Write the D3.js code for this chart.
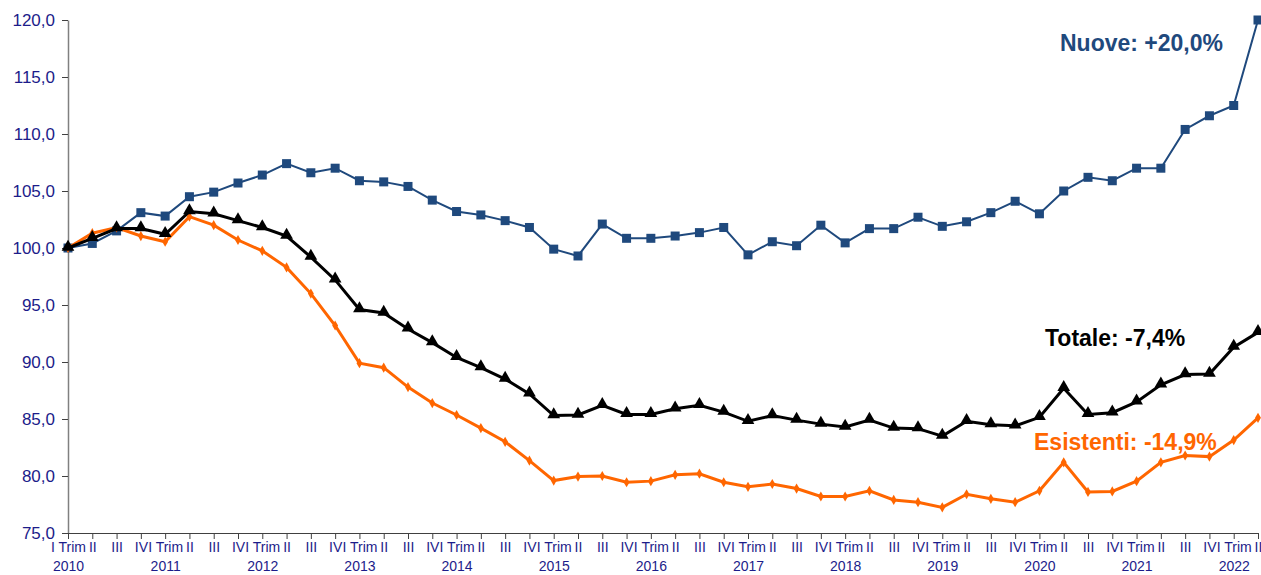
<!doctype html>
<html>
<head>
<meta charset="utf8">
<style>
  body { margin: 0; background: #fff; }
  svg { font-family: Arial, "Liberation Sans", sans-serif; }
  .tick text { fill: #1c1c8a; }
</style>
<script src="https://d3js.org/d3.v7.min.js"></script>
</head>
<body>
<svg width="1261" height="575"></svg>
<script>
// trimestri da I 2010 a II 2022
var quarters = [];
var years = [];
for (var yr = 2010; yr <= 2022; yr++) {
    ["I Trim", "II", "III", "IV"].forEach(function(q) {
        if (yr === 2022 && (q === "III" || q === "IV")) return;
        quarters.push(q);
        years.push(q === "I Trim" ? String(yr) : "");
    });
}

var nuove = [100.0, 100.4, 101.5, 103.1, 102.8, 104.5, 104.9, 105.7, 106.4, 107.4,
             106.6, 107.0, 105.9, 105.8, 105.4, 104.2, 103.2, 102.9, 102.4, 101.8,
             99.9, 99.3, 102.1, 100.85, 100.85, 101.05, 101.35, 101.8, 99.4, 100.55,
             100.2, 102.0, 100.45, 101.7, 101.7, 102.7, 101.9, 102.3, 103.1, 104.1,
             103.0, 105.0, 106.2, 105.9, 107.0, 107.0, 110.4, 111.6, 112.5, 120.0];

var totale = [100.0, 100.85, 101.7, 101.7, 101.2, 103.2, 103.0, 102.4, 101.8, 101.05,
              99.2, 97.2, 94.6, 94.3, 92.9, 91.7, 90.4, 89.5, 88.5, 87.2,
              85.3, 85.35, 86.2, 85.4, 85.4, 85.9, 86.2, 85.6, 84.8, 85.3,
              84.9, 84.55, 84.3, 84.9, 84.2, 84.15, 83.5, 84.8, 84.5, 84.4,
              85.15, 87.7, 85.4, 85.55, 86.5, 88.0, 88.9, 88.95, 91.3, 92.6];

var esistenti = [100.0, 101.3, 101.8, 101.05, 100.55, 102.75, 102.0, 100.7, 99.75, 98.3,
                 96.0, 93.2, 89.9, 89.5, 87.8, 86.4, 85.35, 84.2, 83.0, 81.35,
                 79.6, 79.95, 80.0, 79.45, 79.55, 80.1, 80.2, 79.45, 79.05, 79.3,
                 78.9, 78.2, 78.2, 78.7, 77.9, 77.7, 77.25, 78.4, 78.0, 77.7,
                 78.7, 81.2, 78.6, 78.65, 79.55, 81.2, 81.8, 81.7, 83.15, 85.1];

var yTicks = [75, 80, 85, 90, 95, 100, 105, 110, 115, 120];

var svg = d3.select("svg");

var x = d3.scaleLinear().domain([0, quarters.length - 1]).range([68, 1258]);
var y = d3.scaleLinear().domain([75, 120]).range([533, 20]);

var fmt = function(d) { return d3.format(".1f")(d).replace(".", ","); };

// asse Y
var yAxis = svg.append("g")
    .attr("transform", "translate(68,0)")
    .call(d3.axisLeft(y).tickValues(yTicks).tickFormat(fmt).tickSize(6).tickSizeOuter(0));
yAxis.select(".domain").attr("stroke", "#808080").attr("stroke-width", 1.5);
yAxis.selectAll(".tick line").attr("stroke", "#404040");
yAxis.selectAll(".tick text").attr("font-size", "17px").attr("x", -13);

// asse X
var xAxis = svg.append("g")
    .attr("transform", "translate(0,533)")
    .call(d3.axisBottom(x).tickValues(d3.range(quarters.length))
        .tickFormat(function(i) { return quarters[i]; }).tickSize(6).tickSizeOuter(0));
xAxis.select(".domain").attr("stroke", "#404040").attr("stroke-width", 1.2);
xAxis.selectAll(".tick line").attr("stroke", "#404040");
xAxis.selectAll(".tick text").attr("font-size", "14px").attr("y", 9);

xAxis.selectAll(".tick").append("text")
    .attr("y", 28)
    .attr("dy", "0.71em")
    .attr("font-size", "14px")
    .attr("text-anchor", "middle")
    .text(function(i) { return years[i]; });

var line = d3.line()
    .x(function(d, i) { return x(i); })
    .y(function(d) { return y(d); });

// Nuove
svg.append("path").datum(nuove)
    .attr("fill", "none").attr("stroke", "#1f497d").attr("stroke-width", 2)
    .attr("d", line);
svg.selectAll(".sq").data(nuove).enter().append("rect")
    .attr("class", "sq")
    .attr("x", function(d, i) { return x(i) - 4.5; })
    .attr("y", function(d) { return y(d) - 4.5; })
    .attr("width", 9).attr("height", 9)
    .attr("fill", "#1f497d");

// Esistenti
svg.append("path").datum(esistenti)
    .attr("fill", "none").attr("stroke", "#ff6600").attr("stroke-width", 3)
    .attr("d", line);
svg.selectAll(".dm").data(esistenti).enter().append("path")
    .attr("class", "dm")
    .attr("transform", function(d, i) { return "translate(" + x(i) + "," + y(d) + ")"; })
    .attr("d", d3.symbol().type(d3.symbolDiamond).size(30))
    .attr("fill", "#ff6600");

// Totale
svg.append("path").datum(totale)
    .attr("fill", "none").attr("stroke", "#000").attr("stroke-width", 3)
    .attr("d", line);
svg.selectAll(".tr").data(totale).enter().append("path")
    .attr("class", "tr")
    .attr("transform", function(d, i) { return "translate(" + x(i) + "," + (y(d) - 1) + ")"; })
    .attr("d", d3.symbol().type(d3.symbolTriangle).size(70))
    .attr("fill", "#000");

// etichette
svg.append("text").attr("x", 1060).attr("y", 51)
    .attr("font-size", "23px").attr("font-weight", "bold").attr("fill", "#1f497d")
    .text("Nuove: +20,0%");
svg.append("text").attr("x", 1045).attr("y", 346)
    .attr("font-size", "23px").attr("font-weight", "bold").attr("fill", "#000")
    .text("Totale: -7,4%");
svg.append("text").attr("x", 1034).attr("y", 450)
    .attr("font-size", "23px").attr("font-weight", "bold").attr("fill", "#ff6600")
    .text("Esistenti: -14,9%");
</script>
</body>
</html>
